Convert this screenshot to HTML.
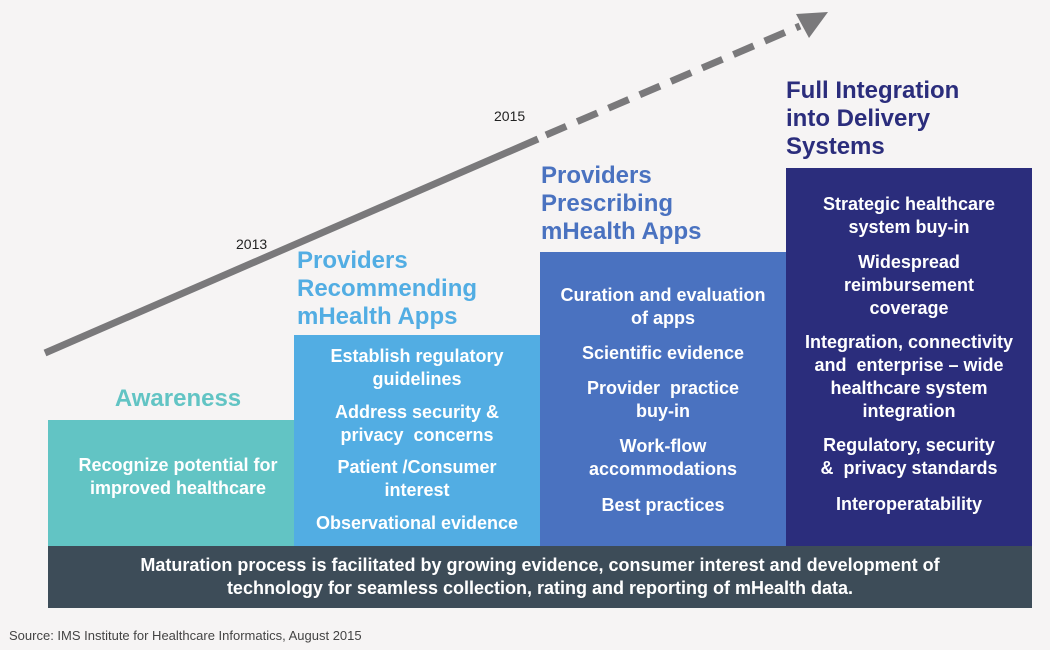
<!DOCTYPE html>
<html><head><style>
body{margin:0;width:1050px;height:650px;background:#f6f4f4;position:relative;overflow:hidden;font-family:"Liberation Sans",sans-serif}
.b{position:absolute;color:#fff;font-weight:bold;font-size:18px;text-align:center;line-height:23px}
.b p{margin:0;position:absolute;left:0;right:0}
.h{position:absolute;font-weight:bold;font-size:24px;line-height:28px}
</style></head><body>
<svg width="1050" height="650" style="position:absolute;left:0;top:0">
<line x1="45" y1="353" x2="538" y2="139" stroke="#7a797b" stroke-width="7"/>
<line x1="546" y1="135" x2="800" y2="26" stroke="#7a797b" stroke-width="7" stroke-dasharray="22,12"/>
<polygon points="828,12 796,14 809,38" fill="#7a797b"/>
<text x="236" y="249" font-family="Liberation Sans" font-size="14" fill="#222">2013</text>
<text x="494" y="121" font-family="Liberation Sans" font-size="14" fill="#222">2015</text>
</svg>
<div class="h" style="left:48px;width:260px;top:385px;text-align:center;color:#62c4c4">Awareness</div>
<div class="h" style="left:297px;top:247px;color:#52ade3">Providers<br>Recommending<br>mHealth Apps</div>
<div class="h" style="left:541px;top:162px;color:#4a72c0">Providers<br>Prescribing<br>mHealth Apps</div>
<div class="h" style="left:786px;top:77px;color:#2b2d7c">Full Integration<br>into Delivery<br>Systems</div>

<div class="b" style="left:48px;top:420px;width:260px;height:126px;background:#62c4c4">
<p style="top:34px">Recognize potential for<br>improved healthcare</p></div>
<div class="b" style="left:294px;top:335px;width:246px;height:211px;background:#52ade3">
<p style="top:10px">Establish regulatory<br>guidelines</p>
<p style="top:66px">Address security &amp;<br>privacy&nbsp; concerns</p>
<p style="top:121px">Patient /Consumer<br>interest</p>
<p style="top:177px">Observational evidence</p></div>
<div class="b" style="left:540px;top:252px;width:246px;height:294px;background:#4a72c0">
<p style="top:32px">Curation and evaluation<br>of apps</p>
<p style="top:90px">Scientific evidence</p>
<p style="top:125px">Provider&nbsp; practice<br>buy-in</p>
<p style="top:183px">Work-flow<br>accommodations</p>
<p style="top:242px">Best practices</p></div>
<div class="b" style="left:786px;top:168px;width:246px;height:378px;background:#2b2d7c">
<p style="top:25px">Strategic healthcare<br>system buy-in</p>
<p style="top:83px">Widespread<br>reimbursement<br>coverage</p>
<p style="top:163px">Integration, connectivity<br>and&nbsp; enterprise – wide<br>healthcare system<br>integration</p>
<p style="top:266px">Regulatory, security<br>&amp;&nbsp; privacy standards</p>
<p style="top:325px">Interoperatability</p></div>
<div class="b" style="left:48px;top:546px;width:984px;height:62px;background:#3d4c58">
<p style="top:8px">Maturation process is facilitated by growing evidence, consumer interest and development of<br>technology for seamless collection, rating and reporting of mHealth data.</p></div>
<div style="position:absolute;left:9px;top:628px;font-size:13px;color:#444">Source: IMS Institute for Healthcare Informatics, August 2015</div>
</body></html>
